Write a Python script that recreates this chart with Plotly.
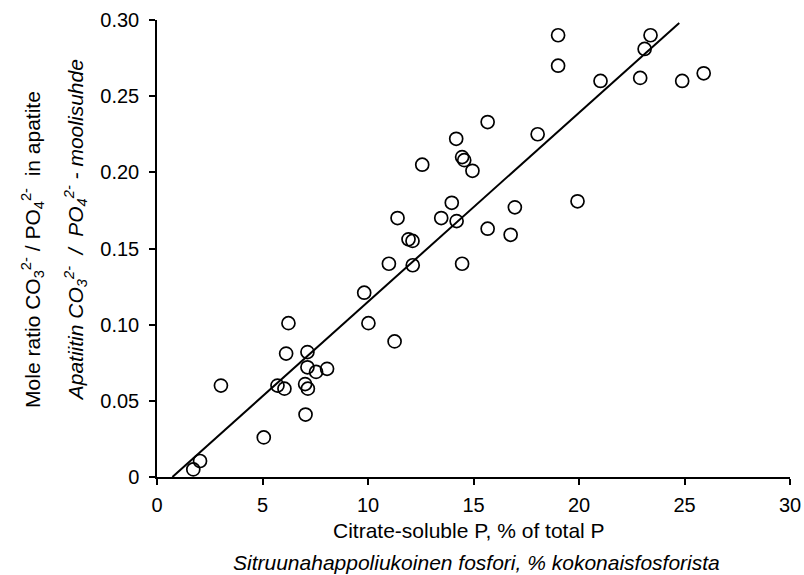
import numpy as np
import plotly.graph_objects as go

# Citrate-soluble P (% of total P) and CO3/PO4 mole ratio
citrate_p = [1.72, 2.04, 3.03, 5.06, 5.71, 6.04, 6.12, 6.23, 7.02, 7.04,
             7.15, 7.13, 7.13, 7.54, 8.06, 9.82, 10.02, 10.99, 11.26, 11.40,
             11.92, 12.11, 12.12, 12.57, 13.47, 13.97, 14.18, 14.20, 14.46, 14.56,
             14.95, 14.46, 15.67, 15.67, 16.76, 16.96, 18.04, 19.01, 19.01, 19.93,
             21.02, 22.90, 23.11, 23.39, 24.89, 25.91]
mole_ratio = [0.005, 0.0105, 0.060, 0.026, 0.060, 0.058, 0.081, 0.101, 0.061, 0.041,
              0.058, 0.072, 0.082, 0.069, 0.071, 0.121, 0.101, 0.140, 0.089, 0.170,
              0.156, 0.155, 0.139, 0.205, 0.170, 0.180, 0.222, 0.168, 0.210, 0.208,
              0.201, 0.140, 0.233, 0.163, 0.159, 0.177, 0.225, 0.290, 0.270, 0.181,
              0.260, 0.262, 0.281, 0.290, 0.260, 0.265]

# regression line as drawn
fit_x_range = [0.73, 24.75]
fit_slope = 0.01241
fit_intercept = -0.00906

x_ticks = [0, 5, 10, 15, 20, 25, 30]
y_ticks = [0, 0.05, 0.10, 0.15, 0.20, 0.25, 0.30]
y_tick_labels = ["0", "0.05", "0.10", "0.15", "0.20", "0.25", "0.30"]

fit_x = np.array(fit_x_range)
fit_y = fit_slope * fit_x + fit_intercept

FONT = "Liberation Sans, Arial, Helvetica, sans-serif"

fig = go.Figure()
fig.add_trace(go.Scatter(
    x=fit_x, y=fit_y, mode="lines",
    line=dict(color="black", width=2), showlegend=False, hoverinfo="skip"))
fig.add_trace(go.Scatter(
    x=citrate_p, y=mole_ratio, mode="markers",
    marker=dict(symbol="circle-open", size=13, color="black",
                line=dict(color="black", width=1.7)),
    showlegend=False, cliponaxis=False))

axis_common = dict(showline=True, linecolor="black", linewidth=1.5,
                   ticks="outside", ticklen=6, tickwidth=1.5, tickcolor="black",
                   showgrid=False, zeroline=False, automargin=False,
                   tickfont=dict(family=FONT, size=20, color="black"))

fig.update_xaxes(range=[0, 30], tickvals=x_ticks, ticktext=[str(v) for v in x_ticks],
                 ticklabelstandoff=3, **axis_common)
fig.update_yaxes(range=[0, 0.30], tickvals=y_ticks, ticktext=y_tick_labels,
                 ticklabelstandoff=6, **axis_common)

annots = [
    dict(text="Citrate-soluble P, % of total P", x=0.493, y=-0.116,
         textangle=0, italic=False),
    dict(text="Sitruunahappoliukoinen fosfori, % kokonaisfosforista", x=0.504, y=-0.188,
         textangle=0, italic=True),
    dict(text="Mole ratio CO<sub>3</sub><sup>2-</sup> / PO<sub>4</sub><sup>2-</sup>  in apatite",
         x=-0.196, y=0.499, textangle=-90, italic=False),
    dict(text="Apatiitin CO<sub>3</sub><sup>2-</sup>  /  PO<sub>4</sub><sup>2-</sup> - moolisuhde",
         x=-0.1295, y=0.54, textangle=-90, italic=True),
]
for a in annots:
    txt = "<i>" + a["text"] + "</i>" if a["italic"] else a["text"]
    fig.add_annotation(text=txt, x=a["x"], y=a["y"], xref="paper", yref="paper",
                       showarrow=False, textangle=a["textangle"],
                       xanchor="center", yanchor="middle",
                       font=dict(family=FONT, size=21, color="black"))

fig.update_layout(
    width=804, height=575,
    margin=dict(l=157, r=14, t=20, b=98),
    plot_bgcolor="white", paper_bgcolor="white",
)

fig.write_html("out.html", config={"displayModeBar": False},
               post_script="document.body.style.margin='0';document.body.style.overflow='hidden';")
